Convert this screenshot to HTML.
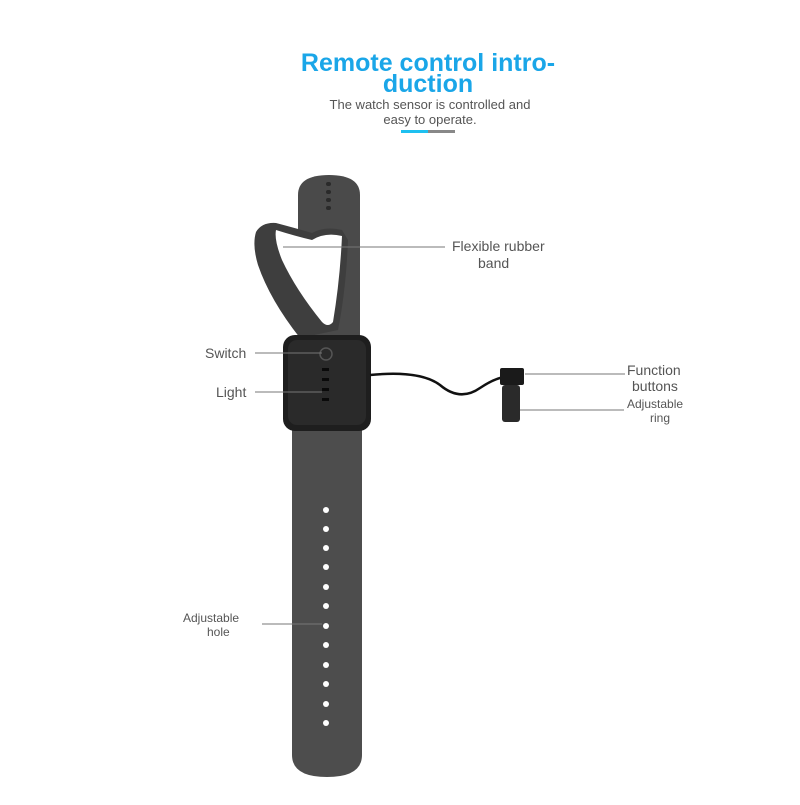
<!DOCTYPE html>
<html><head><style>
body{margin:0;background:#fff;width:800px;height:800px;overflow:hidden;font-family:"Liberation Sans",sans-serif}
</style></head><body>
<svg width="800" height="800" viewBox="0 0 800 800" xmlns="http://www.w3.org/2000/svg">
<rect width="800" height="800" fill="#fff"/>
<text x="428" y="71" text-anchor="middle" font-family="Liberation Sans,sans-serif" font-weight="bold" font-size="25" fill="#1aa6e8">Remote control intro-</text>
<text x="428" y="92" text-anchor="middle" font-family="Liberation Sans,sans-serif" font-weight="bold" font-size="25" fill="#1aa6e8">duction</text>
<text x="430" y="109" text-anchor="middle" font-size="13" fill="#555">The watch sensor is controlled and</text>
<text x="430" y="124" text-anchor="middle" font-size="13" fill="#555">easy to operate.</text>
<rect x="401" y="130" width="27" height="3" fill="#1ec0f0"/>
<rect x="428" y="130" width="27" height="3" fill="#888"/>
<!-- upper strap -->
<path d="M298,195 Q298,175 329,175 Q360,175 360,195 L360,340 L298,340 Z" fill="#4a4a4a"/>
<g fill="#2a2a2a"><rect x="326" y="182" width="5" height="4" rx="2"/><rect x="326" y="190" width="5" height="4" rx="2"/><rect x="326" y="198" width="5" height="4" rx="2"/><rect x="326" y="206" width="5" height="4" rx="2"/></g>
<!-- loop outer -->
<path d="M256,232 Q262,222 276,223 Q295,228 312,233 Q325,226 342,230 L348,240 Q346,290 338,330 L300,338 Q270,300 258,265 Q252,245 256,232 Z" fill="#3e3e3e"/>
<!-- loop hole -->
<path d="M276,230 Q295,236 312,240 Q325,232 342,236 Q340,280 333,322 Q328,328 322,322 Q296,290 282,260 Q274,240 276,230 Z" fill="#fff"/>
<!-- lower strap -->
<path d="M292,425 L362,425 L362,755 Q362,777 327,777 Q292,777 292,755 Z" fill="#4d4d4d"/>
<g fill="#fff">
<circle cx="326" cy="510" r="3"/><circle cx="326" cy="529" r="3"/><circle cx="326" cy="548" r="3"/><circle cx="326" cy="567" r="3"/><circle cx="326" cy="587" r="3"/><circle cx="326" cy="606" r="3"/><circle cx="326" cy="626" r="3"/><circle cx="326" cy="645" r="3"/><circle cx="326" cy="665" r="3"/><circle cx="326" cy="684" r="3"/><circle cx="326" cy="704" r="3"/><circle cx="326" cy="723" r="3"/>
</g>
<!-- watch body -->
<rect x="283" y="335" width="88" height="96" rx="12" fill="#1e1e1e"/>
<rect x="288" y="340" width="78" height="85" rx="9" fill="#2a2a2a"/>
<circle cx="326" cy="354" r="6" fill="none" stroke="#555" stroke-width="1.5"/>
<g fill="#0a0a0a"><rect x="322" y="368" width="7" height="3"/><rect x="322" y="378" width="7" height="3"/><rect x="322" y="388" width="7" height="3"/><rect x="322" y="398" width="7" height="3"/></g>
<!-- cable -->
<path d="M370,375 Q420,370 440,385 Q460,402 480,388 Q495,378 505,377" fill="none" stroke="#111" stroke-width="2.5"/>
<rect x="500" y="368" width="24" height="17" rx="2" fill="#1a1a1a"/>
<rect x="502" y="385" width="18" height="37" rx="3" fill="#2a2a2a"/>
<!-- leader lines -->
<g stroke="#777" stroke-width="1">
<line x1="283" y1="247" x2="445" y2="247"/>
<line x1="255" y1="353" x2="322" y2="353"/>
<line x1="255" y1="392" x2="322" y2="392"/>
<line x1="525" y1="374" x2="625" y2="374"/>
<line x1="520" y1="410" x2="624" y2="410"/>
<line x1="262" y1="624" x2="322" y2="624"/>
</g>
<g font-size="14" fill="#555">
<text x="452" y="251">Flexible  rubber</text>
<text x="478" y="268">band</text>
<text x="205" y="358">Switch</text>
<text x="216" y="397">Light</text>
<text x="627" y="375">Function</text>
<text x="632" y="391">buttons</text>
<text x="627" y="408" font-size="12">Adjustable</text>
<text x="650" y="422" font-size="12">ring</text>
<text x="183" y="622" font-size="12">Adjustable</text>
<text x="207" y="636" font-size="12">hole</text>
</g>
</svg>
</body></html>
